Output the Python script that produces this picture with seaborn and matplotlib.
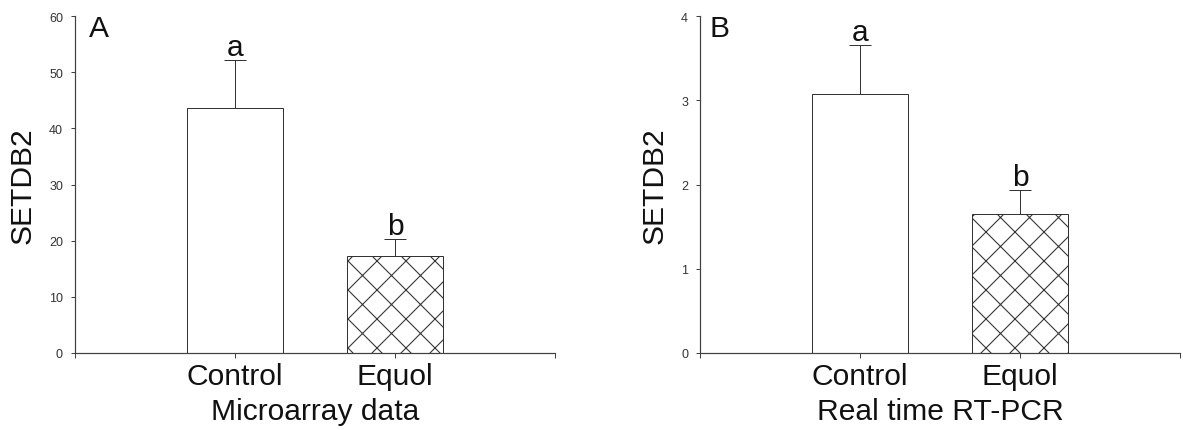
import numpy as np
import pandas as pd
import matplotlib
matplotlib.use('Agg')
import matplotlib.pyplot as plt
import seaborn as sns

# Data
groups = ['Control', 'Equol']
micro_mean = [43.7, 17.3]
micro_err = [8.5, 3.0]
pcr_mean = [3.07, 1.655]
pcr_err = [0.58, 0.28]
letters = ['a', 'b']

sns.set_style('ticks')
plt.rcParams['font.family'] = ['Liberation Sans', 'DejaVu Sans']
plt.rcParams['hatch.linewidth'] = 0.45
plt.rcParams['hatch.color'] = '#333333'

DPI = 174
PX = 72 / DPI  # points per pixel
edge = '#333333'
big = 30 * PX

fig = plt.figure(figsize=(1183 / DPI, 431 / DPI), dpi=DPI)
ax_a = fig.add_axes([75 / 1183, 77 / 431, 480 / 1183, 337 / 431])
ax_b = fig.add_axes([700 / 1183, 77 / 431, 480 / 1183, 337 / 431])

panels = [
    (ax_a, micro_mean, micro_err, 60, 10, 'Microarray data', 'A', 0.029),
    (ax_b, pcr_mean, pcr_err, 4, 1, 'Real time RT-PCR', 'B', 0.019),
]

for ax, means, errs, ymax, step, xlab, tag, tagx in panels:
    df = pd.DataFrame({'group': groups, 'value': means})
    sns.barplot(data=df, x='group', y='value', color='white', saturation=1,
                edgecolor=edge, linewidth=1 * PX, width=0.6, errorbar=None, ax=ax)
    ax.patches[1].set_hatch('xx')
    ax.errorbar([0, 1], means, yerr=[np.zeros(2), errs], fmt='none',
                ecolor=edge, elinewidth=1 * PX, capsize=11 * PX, capthick=1 * PX)
    for i, (m, e) in enumerate(zip(means, errs)):
        ax.annotate(letters[i], (i, m + e), xytext=(0, 5 * PX), textcoords='offset points',
                    ha='center', va='baseline', fontsize=big, color='#111111')

    ax.set_xlim(-1, 2)
    ax.set_ylim(0, ymax)
    ax.set_yticks(np.arange(0, ymax + step / 2, step))
    ax.set_xticks([-1, 0, 1, 2])
    ax.set_xticklabels(['', 'Control', 'Equol', ''])
    sns.despine(ax=ax)
    for s in ['left', 'bottom']:
        ax.spines[s].set_color('#404040')
        ax.spines[s].set_linewidth(1.2 * PX)
    ax.tick_params(axis='y', direction='out', length=4 * PX, width=1 * PX, color='#404040',
                   pad=8 * PX, labelsize=12.5 * PX, labelcolor='#333333')
    ax.tick_params(axis='x', direction='out', length=5 * PX, width=1 * PX, color='#404040',
                   pad=4 * PX, labelsize=big, labelcolor='#111111')
    ax.set_xlabel(xlab, fontsize=big, color='#111111', labelpad=7 * PX)
    ax.set_ylabel('SETDB2', fontsize=big, color='#111111', labelpad=12 * PX)
    ax.text(tagx, 0.94, tag, transform=ax.transAxes, fontsize=big, color='#111111',
            ha='left', va='baseline')

fig.savefig('out.png', dpi=DPI)
